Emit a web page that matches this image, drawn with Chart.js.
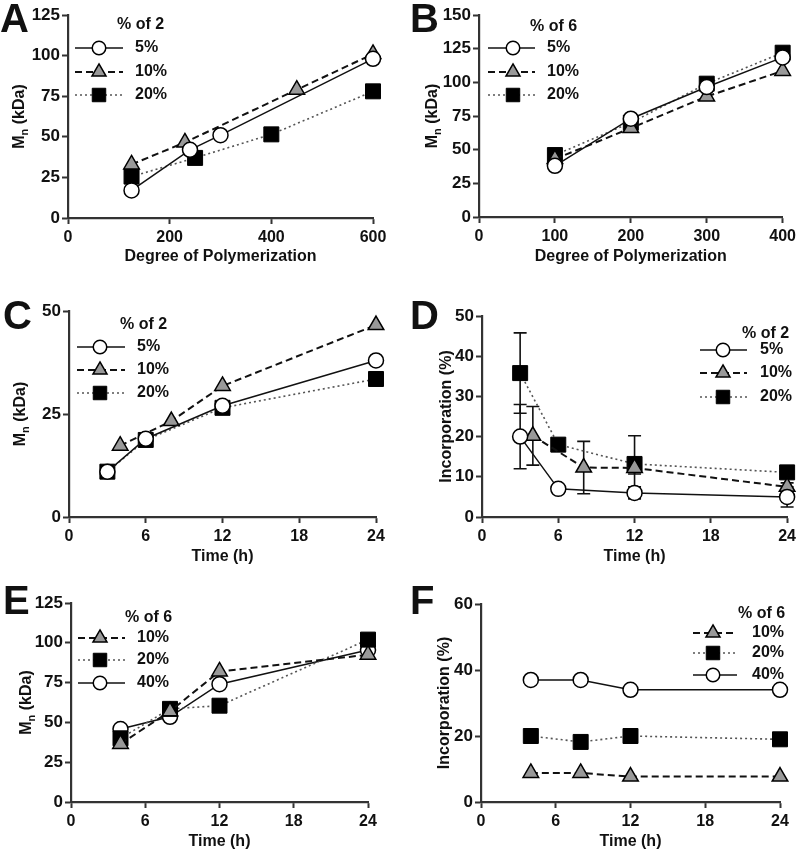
<!DOCTYPE html>
<html><head><meta charset="utf-8">
<script src="https://cdn.jsdelivr.net/npm/chart.js@4.4.1/dist/chart.umd.min.js"></script>
<style>
html,body{margin:0;padding:0;background:#fff;}
#wrap{position:relative;width:800px;height:851px;overflow:hidden;background:#fff;}
canvas{position:absolute;}
.lbl{position:absolute;font-family:"Liberation Sans",Arial,sans-serif;font-weight:bold;font-size:40px;line-height:40px;color:#111;}
</style></head><body>
<div id="wrap">
<canvas id="cA" width="400" height="280" style="left:0;top:0"></canvas>
<canvas id="cB" width="400" height="280" style="left:400px;top:0"></canvas>
<canvas id="cC" width="400" height="280" style="left:0;top:290px"></canvas>
<canvas id="cD" width="400" height="280" style="left:400px;top:290px"></canvas>
<canvas id="cE" width="400" height="271" style="left:0;top:580px"></canvas>
<canvas id="cF" width="400" height="271" style="left:400px;top:580px"></canvas>
<div class="lbl" style="left:0;top:-2px">A</div>
<div class="lbl" style="left:410px;top:-2px">B</div>
<div class="lbl" style="left:3px;top:295px">C</div>
<div class="lbl" style="left:410px;top:295px">D</div>
<div class="lbl" style="left:3px;top:580px">E</div>
<div class="lbl" style="left:410px;top:580px">F</div>
</div>
<script>
// ---------- DATA ----------
// Panel A: Mn (kDa) vs degree of polymerization, % of 2
const A_dp_5 = [125, 240, 300, 600];
const A_mn_5 = [17, 42, 51, 98];
const A_dp_10 = [125, 230, 450, 600];
const A_mn_10 = [33, 46.5, 79, 101];
const A_dp_20 = [125, 250, 400, 600];
const A_mn_20 = [25.5, 37, 51.5, 78];
const A_xTicks = [0, 200, 400, 600];
const A_yTicks = [0, 25, 50, 75, 100, 125];

// Panel B: Mn (kDa) vs degree of polymerization, % of 6
const B_dp = [100, 200, 300, 400];
const B_mn_5 = [38, 73, 96.5, 118.5];
const B_mn_10 = [43, 66, 89.5, 108.5];
const B_mn_20 = [46, 70, 99, 122];
const B_xTicks = [0, 100, 200, 300, 400];
const B_yTicks = [0, 25, 50, 75, 100, 125, 150];

// Panel C: Mn (kDa) vs time, % of 2
const C_t_5 = [3, 6, 12, 24];
const C_mn_5 = [11, 19, 27, 38];
const C_t_10 = [4, 8, 12, 24];
const C_mn_10 = [17.3, 23.3, 31.8, 46.6];
const C_t_20 = [3, 6, 12, 24];
const C_mn_20 = [11, 18.7, 26.5, 33.5];
const C_xTicks = [0, 6, 12, 18, 24];
const C_yTicks = [0, 25, 50];

// Panel D: Incorporation (%) vs time, % of 2 (with error bars)
const D_t_5 = [3, 6, 12, 24];
const D_inc_5 = [20, 7, 6, 5];
const D_err_5 = [8, 1, 1.5, 2.5];
const D_t_10 = [4, 8, 12, 24];
const D_inc_10 = [20.2, 12.3, 12.2, 7.5];
const D_err_10 = [7.3, 6.5, 1.5, 1];
const D_t_20 = [3, 6, 12, 24];
const D_inc_20 = [35.8, 18, 13.2, 11.1];
const D_err_20 = [10, 1, 7, 1];
const D_xTicks = [0, 6, 12, 18, 24];
const D_yTicks = [0, 10, 20, 30, 40, 50];

// Panel E: Mn (kDa) vs time, % of 6
const E_t = [4, 8, 12, 24];
const E_mn_10 = [36.5, 57, 82, 92.5];
const E_mn_20 = [40, 58.5, 60.5, 102];
const E_mn_40 = [45.8, 53.5, 74, 95.5];
const E_xTicks = [0, 6, 12, 18, 24];
const E_yTicks = [0, 25, 50, 75, 100, 125];

// Panel F: Incorporation (%) vs time, % of 6
const F_t = [4, 8, 12, 24];
const F_inc_10 = [8.8, 8.8, 7.7, 7.7];
const F_inc_20 = [20, 18.2, 20, 19];
const F_inc_40 = [37, 37, 34, 34];
const F_xTicks = [0, 6, 12, 18, 24];
const F_yTicks = [0, 20, 40, 60];

// ---------- STYLES ----------
const FF = '"Liberation Sans", Arial, sans-serif';
const TXT = '#111111';
const AX = '#333333';
const STY = {
  circle: {ps: 'circle', r: 7.5, fill: '#ffffff', pbw: 1.5, line: '#111111', lw: 1.5, dash: []},
  tri:    {ps: 'triangle', r: 9, fill: '#999999', pbw: 1.5, line: '#111111', lw: 2, dash: [7, 4]},
  sq:     {ps: 'rect', r: 10.6, fill: '#000000', pbw: 1, line: '#555555', lw: 1.6, dash: [2, 3]}
};

function ds(label, xs, ys, st, err) {
  return {
    label: label,
    data: xs.map((x, i) => ({x: x, y: ys[i]})),
    borderColor: st.line, borderWidth: st.lw, borderDash: st.dash,
    pointStyle: st.ps, pointRadius: st.r, pointHoverRadius: st.r,
    pointBackgroundColor: st.fill, pointBorderColor: '#000000', pointBorderWidth: st.pbw,
    fill: false, tension: 0, clip: false, errorBars: err || null
  };
}

function drawMarker(ctx, style, x, y, r, fill, stroke, bw) {
  ctx.save();
  ctx.beginPath();
  ctx.setLineDash([]);
  if (style === 'circle') {
    ctx.arc(x, y, r, 0, Math.PI * 2);
  } else if (style === 'triangle') {
    let a = 0;
    ctx.moveTo(x + Math.sin(a) * r, y - Math.cos(a) * r);
    a += 2 * Math.PI / 3;
    ctx.lineTo(x + Math.sin(a) * r, y - Math.cos(a) * r);
    a += 2 * Math.PI / 3;
    ctx.lineTo(x + Math.sin(a) * r, y - Math.cos(a) * r);
    ctx.closePath();
  } else {
    const s = Math.SQRT1_2 * r;
    ctx.rect(x - s, y - s, 2 * s, 2 * s);
  }
  ctx.fillStyle = fill; ctx.fill();
  ctx.lineWidth = bw; ctx.strokeStyle = stroke; ctx.stroke();
  ctx.restore();
}

const legendPlugin = {
  id: 'panelLegend',
  afterDraw(chart, args, o) {
    if (!o || !o.title) return;
    const ctx = chart.ctx;
    ctx.save();
    ctx.font = 'bold 16px ' + FF;
    ctx.fillStyle = TXT; ctx.textBaseline = 'middle'; ctx.textAlign = 'left';
    ctx.fillText(o.title, o.titleX, o.titleY);
    chart.data.datasets.forEach((d, i) => {
      const y = o.rowsY[i];
      ctx.save();
      ctx.strokeStyle = d.borderColor; ctx.lineWidth = d.borderWidth;
      ctx.setLineDash(d.borderDash || []);
      ctx.beginPath(); ctx.moveTo(o.lineX1, y); ctx.lineTo(o.lineX2, y); ctx.stroke();
      ctx.restore();
      drawMarker(ctx, d.pointStyle, o.markerX, y, d.pointRadius * 0.9, d.pointBackgroundColor, d.pointBorderColor, d.pointBorderWidth);
      ctx.fillStyle = TXT;
      ctx.fillText(d.label, o.labelX, y);
    });
    ctx.restore();
  }
};

const yTitlePlugin = {
  id: 'yTitle',
  afterDraw(chart, args, o) {
    if (!o || !o.parts) return;
    const ctx = chart.ctx, a = chart.chartArea;
    const cy = (a.top + a.bottom) / 2 + (o.dy || 0);
    ctx.save();
    ctx.translate(o.cx, cy);
    ctx.rotate(-Math.PI / 2);
    ctx.fillStyle = TXT; ctx.textBaseline = 'middle'; ctx.textAlign = 'left';
    let total = 0;
    const widths = o.parts.map(p => {
      ctx.font = 'bold ' + (p.sub ? 11 : 16) + 'px ' + FF;
      const w = ctx.measureText(p.text).width; total += w; return w;
    });
    let x = -total / 2;
    o.parts.forEach((p, i) => {
      ctx.font = 'bold ' + (p.sub ? 11 : 16) + 'px ' + FF;
      ctx.fillText(p.text, x, p.sub ? 5 : 0);
      x += widths[i];
    });
    ctx.restore();
  }
};

const errorBarPlugin = {
  id: 'errorBars',
  beforeDatasetsDraw(chart) {
    const ctx = chart.ctx, xs = chart.scales.x, ys = chart.scales.y;
    chart.data.datasets.forEach((d) => {
      if (!d.errorBars) return;
      ctx.save();
      ctx.strokeStyle = '#111111'; ctx.lineWidth = 1.6; ctx.setLineDash([]);
      d.data.forEach((p, j) => {
        const e = d.errorBars[j];
        if (!e) return;
        const px = xs.getPixelForValue(p.x);
        const y1 = ys.getPixelForValue(p.y + e), y2 = ys.getPixelForValue(p.y - e);
        ctx.beginPath();
        ctx.moveTo(px, y1); ctx.lineTo(px, y2);
        ctx.moveTo(px - 6.5, y1); ctx.lineTo(px + 6.5, y1);
        ctx.moveTo(px - 6.5, y2); ctx.lineTo(px + 6.5, y2);
        ctx.stroke();
      });
      ctx.restore();
    });
  }
};

const xTickFont = {family: FF, size: 16, weight: 'bold'};
const yTickFont = {family: FF, size: 17, weight: 'bold'};

function axis(min, max, ticks, size, horizontal, title, titlePadBottom) {
  const ax = {
    type: 'linear', min: min, max: max,
    afterBuildTicks: s => { s.ticks = ticks.map(v => ({value: v})); },
    grid: {display: true, drawOnChartArea: false, drawTicks: true, tickLength: 6, tickWidth: 2, tickColor: AX, color: AX},
    border: {display: true, color: AX, width: 2.2},
    ticks: {font: horizontal ? xTickFont : yTickFont, color: TXT, padding: horizontal ? 4 : 2, maxRotation: 0, autoSkip: false}
  };
  if (horizontal) {
    ax.position = 'bottom';
    ax.afterFit = s => { s.height = size; };
    ax.title = {display: true, text: title, font: xTickFont, color: TXT, padding: {top: 0, bottom: titlePadBottom}};
  } else {
    ax.position = 'left';
    ax.afterFit = s => { s.width = size; };
  }
  return ax;
}

function makeChart(id, datasets, cfg) {
  return new Chart(document.getElementById(id), {
    type: 'line',
    data: {datasets: datasets},
    plugins: [errorBarPlugin, legendPlugin, yTitlePlugin],
    options: {
      responsive: false, animation: false, devicePixelRatio: 1,
      layout: {padding: cfg.pad},
      events: [],
      scales: {
        x: axis(cfg.xMin, cfg.xMax, cfg.xTicks, cfg.hx, true, cfg.xTitle, cfg.xtpb),
        y: axis(cfg.yMin, cfg.yMax, cfg.yTicks, cfg.wy, false)
      },
      plugins: {
        legend: {display: false}, tooltip: {enabled: false},
        panelLegend: cfg.legend,
        yTitle: cfg.yTitle
      }
    }
  });
}

const MN = [{text: 'M'}, {text: 'n', sub: true}, {text: ' (kDa)'}];
const INC = [{text: 'Incorporation (%)'}];

makeChart('cA', [
  ds('5%', A_dp_5, A_mn_5, STY.circle),
  ds('10%', A_dp_10, A_mn_10, STY.tri),
  ds('20%', A_dp_20, A_mn_20, STY.sq)
], {pad: {left: 0, top: 15, right: 27, bottom: 0}, wy: 68, hx: 62, xtpb: 13.4,
  xMin: 0, xMax: 600, xTicks: A_xTicks, yMin: 0, yMax: 125, yTicks: A_yTicks,
  xTitle: 'Degree of Polymerization',
  yTitle: {cx: 20, parts: MN},
  legend: {title: '% of 2', titleX: 117, titleY: 25, rowsY: [48, 72, 95], lineX1: 75, lineX2: 123, markerX: 99, labelX: 135}});

makeChart('cB', [
  ds('5%', B_dp, B_mn_5, STY.circle),
  ds('10%', B_dp, B_mn_10, STY.tri),
  ds('20%', B_dp, B_mn_20, STY.sq)
], {pad: {left: 0, top: 15, right: 15, bottom: 0}, wy: 79, hx: 63, xtpb: 13.4,
  xMin: 0, xMax: 400, xTicks: B_xTicks, yMin: 0, yMax: 150, yTicks: B_yTicks,
  xTitle: 'Degree of Polymerization',
  yTitle: {cx: 33, parts: MN},
  legend: {title: '% of 6', titleX: 130, titleY: 27, rowsY: [48, 72, 95], lineX1: 88, lineX2: 135, markerX: 113, labelX: 147}});

makeChart('cC', [
  ds('5%', C_t_5, C_mn_5, STY.circle),
  ds('10%', C_t_10, C_mn_10, STY.tri),
  ds('20%', C_t_20, C_mn_20, STY.sq)
], {pad: {left: 0, top: 21, right: 24, bottom: 0}, wy: 69, hx: 53, xtpb: 3.4,
  xMin: 0, xMax: 24, xTicks: C_xTicks, yMin: 0, yMax: 50, yTicks: C_yTicks,
  xTitle: 'Time (h)',
  yTitle: {cx: 21, parts: MN},
  legend: {title: '% of 2', titleX: 120, titleY: 35, rowsY: [57, 80, 103], lineX1: 77, lineX2: 125, markerX: 100, labelX: 137}});

makeChart('cD', [
  ds('5%', D_t_5, D_inc_5, STY.circle, D_err_5),
  ds('10%', D_t_10, D_inc_10, STY.tri, D_err_10),
  ds('20%', D_t_20, D_inc_20, STY.sq, D_err_20)
], {pad: {left: 0, top: 26, right: 12, bottom: 0}, wy: 82, hx: 53, xtpb: 3.4,
  xMin: 0, xMax: 24, xTicks: D_xTicks, yMin: 0, yMax: 50, yTicks: D_yTicks,
  xTitle: 'Time (h)',
  yTitle: {cx: 47, parts: INC},
  legend: {title: '% of 2', titleX: 342, titleY: 44, rowsY: [60, 83, 107], lineX1: 300, lineX2: 347, markerX: 323, labelX: 360}});

makeChart('cE', [
  ds('10%', E_t, E_mn_10, STY.tri),
  ds('20%', E_t, E_mn_20, STY.sq),
  ds('40%', E_t, E_mn_40, STY.circle)
], {pad: {left: 0, top: 23, right: 32, bottom: 0}, wy: 71, hx: 49, xtpb: 0,
  xMin: 0, xMax: 24, xTicks: E_xTicks, yMin: 0, yMax: 125, yTicks: E_yTicks,
  xTitle: 'Time (h)',
  yTitle: {cx: 27, parts: MN},
  legend: {title: '% of 6', titleX: 125, titleY: 38, rowsY: [58, 80, 103], lineX1: 78, lineX2: 125, markerX: 100, labelX: 137}});

makeChart('cF', [
  ds('10%', F_t, F_inc_10, STY.tri),
  ds('20%', F_t, F_inc_20, STY.sq),
  ds('40%', F_t, F_inc_40, STY.circle)
], {pad: {left: 0, top: 24, right: 20, bottom: 0}, wy: 81, hx: 49, xtpb: 0,
  xMin: 0, xMax: 24, xTicks: F_xTicks, yMin: 0, yMax: 60, yTicks: F_yTicks,
  xTitle: 'Time (h)',
  yTitle: {cx: 45, parts: INC},
  legend: {title: '% of 6', titleX: 338, titleY: 34, rowsY: [53, 73, 95], lineX1: 293, lineX2: 337, markerX: 313, labelX: 352}});
</script>
</body></html>
